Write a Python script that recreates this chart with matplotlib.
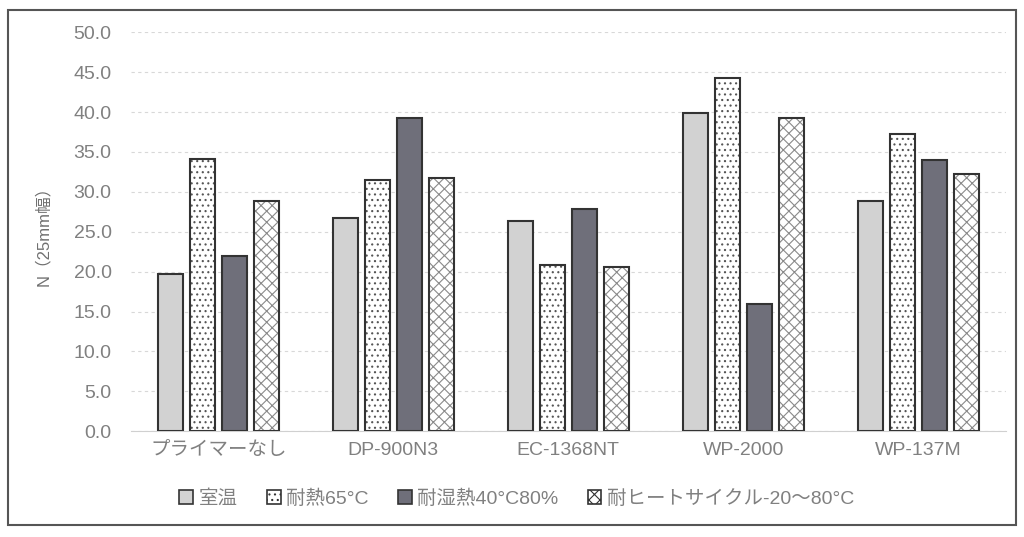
import numpy as np
import matplotlib
matplotlib.use('Agg')
import matplotlib.pyplot as plt
import matplotlib.patches as mpatches

plt.rcParams['font.family'] = ['Liberation Sans', 'Noto Sans CJK JP', 'DejaVu Sans']
plt.rcParams['hatch.linewidth'] = 0.8

categories = ['プライマーなし', 'DP-900N3', 'EC-1368NT', 'WP-2000', 'WP-137M']
series_names = ['室温', '耐熱65°C', '耐湿熱40°C80%', '耐ヒートサイクル-20～80°C']
room_temp = [19.7, 26.7, 26.4, 39.9, 28.9]
heat_65 = [34.1, 31.5, 20.8, 44.3, 37.2]
humid_heat = [21.9, 39.3, 27.8, 15.9, 34.0]
heat_cycle = [28.9, 31.7, 20.6, 39.3, 32.2]
yticks = np.arange(0, 50.1, 5)

values = [room_temp, heat_65, humid_heat, heat_cycle]
fills = ['#d2d2d2', 'white', '#6f6f7a', 'white']
hatches = [None, '...', None, 'xxx']
hatch_cols = [None, '#555555', None, '#8a8a8a']

fig = plt.figure(figsize=(10.24, 5.37), dpi=100)
ax = fig.add_axes([0.128, 0.197, 0.854, 0.743])

# outer frame
fig.patches.append(mpatches.Rectangle((0.008, 0.022), 0.984, 0.96, transform=fig.transFigure,
                                      fill=False, edgecolor='#555555', linewidth=1.5))

x = np.arange(len(categories))
slot = 0.183
width = 0.143
for i, vals in enumerate(values):
    pos = x + (i - 1.5) * slot
    if hatches[i]:
        ax.bar(pos, vals, width, color=fills[i], hatch=hatches[i], edgecolor=hatch_cols[i], linewidth=0, zorder=3)
        ax.bar(pos, vals, width, fill=False, edgecolor='#333333', linewidth=1.5, zorder=4)
    else:
        ax.bar(pos, vals, width, color=fills[i], edgecolor='#333333', linewidth=1.5, zorder=3)

ax.set_xlim(-0.5, 4.5)
ax.set_ylim(0, 50)
ax.set_yticks(yticks)
ax.set_yticklabels(['%.1f' % v for v in yticks])
ax.set_xticks(x)
ax.set_xticklabels(categories)
ax.tick_params(length=0, colors='#808080', labelsize=14, pad=8)
ax.tick_params(axis='y', pad=14)
ax.grid(axis='y', color='#d8d8d8', linestyle=(0, (3, 3)), linewidth=0.8, zorder=0)
for s in ['left', 'right', 'top']:
    ax.spines[s].set_visible(False)
ax.spines['bottom'].set_color('#d0d0d0')
ax.set_ylabel('N（25mm幅）', color='#707070', fontsize=12, labelpad=16)

handles = []
for i in range(4):
    h = mpatches.Patch(facecolor=fills[i], hatch=hatches[i], edgecolor='#333333', linewidth=1.2)
    handles.append(h)
fig.legend(handles, series_names, loc='center left', bbox_to_anchor=(0.158, 0.072), ncol=4,
           frameon=False, fontsize=14, labelcolor='#808080', handlelength=0.7, handleheight=0.7,
           handletextpad=0.3, columnspacing=1.5)

fig.savefig('out.png', dpi=100)
